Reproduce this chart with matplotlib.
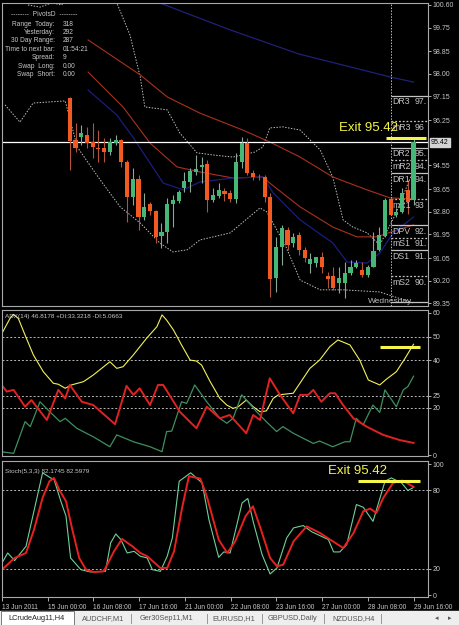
import matplotlib
matplotlib.use("Agg")
import matplotlib.pyplot as plt
from matplotlib.patches import Rectangle

plt.rcParams['font.family'] = ['Liberation Sans', 'DejaVu Sans']

W, H = 460, 625
BG = "black"
FG = "#c8c8c8"
EDGE = "#a8a8a8"
UP, DOWN = "#45b878", "#f25a22"
UP_WICK, DOWN_WICK = "#8aa898", "#b0553a"
YEL = "#f5f54a"

# ---------------- data ----------------
# 4H bars, index 0 = 13 Jun 2011 16:00
bars = list(range(12, 73))
opens = [97.09, 95.51, 95.62, 95.69, 95.43, 95.20, 95.20, 95.05, 95.39, 95.51,
         94.68, 93.35, 94.03, 92.60, 93.09, 92.83, 91.88, 92.03, 93.09, 93.20,
         93.69, 93.92, 94.30, 94.49, 94.60, 93.24, 93.39, 93.58, 93.51, 93.28,
         94.68, 95.39, 94.26, 94.11, 94.11, 93.35, 90.30, 91.47, 92.11, 91.62,
         91.92, 91.36, 90.83, 90.86, 91.09, 90.37, 90.37, 90.11, 90.11, 90.49,
         90.71, 90.60, 90.41, 90.71, 91.36, 91.88, 93.28, 92.68, 92.79, 93.62,
         93.24]
highs = [97.12, 96.15, 96.07, 96.00, 96.15, 95.88, 95.58, 95.58, 95.69, 95.54,
         94.75, 94.45, 94.19, 93.51, 93.17, 92.86, 92.37, 93.32, 93.43, 93.62,
         94.30, 94.45, 94.94, 94.86, 94.75, 93.69, 93.88, 93.69, 93.62, 95.02,
         95.62, 95.58, 94.37, 94.22, 94.19, 93.51, 91.85, 92.30, 92.22, 92.00,
         92.03, 91.47, 91.24, 91.09, 91.28, 90.53, 90.71, 90.71, 90.90, 90.98,
         90.98, 90.90, 90.79, 92.03, 92.22, 93.32, 93.32, 92.94, 93.69, 94.00,
         95.62]
lows = [94.37, 95.05, 95.32, 95.20, 94.83, 94.68, 94.68, 94.94, 95.32, 94.49,
        92.41, 93.05, 92.11, 92.49, 92.68, 91.62, 91.43, 91.62, 92.22, 93.13,
        93.54, 93.54, 94.19, 93.88, 92.79, 93.17, 93.32, 93.20, 93.17, 93.13,
        94.45, 94.19, 94.00, 94.00, 93.17, 89.58, 89.77, 90.79, 91.36, 91.47,
        91.17, 90.90, 90.49, 90.71, 90.49, 89.92, 89.85, 89.73, 89.54, 90.41,
        90.68, 90.34, 90.34, 90.71, 91.32, 91.85, 92.68, 92.60, 92.75, 92.71,
        93.05]
closes = [95.47, 95.20, 95.77, 95.39, 95.24, 95.18, 95.05, 95.43, 95.51, 94.68,
          93.35, 94.03, 92.60, 92.98, 92.83, 91.85, 92.03, 93.09, 93.24, 93.54,
          93.96, 94.34, 94.41, 94.56, 93.24, 93.43, 93.62, 93.47, 93.28, 94.68,
          95.39, 94.26, 94.11, 94.09, 93.35, 90.26, 91.47, 92.19, 91.54, 91.85,
          91.36, 91.05, 91.02, 91.09, 90.71, 90.26, 89.92, 90.30, 90.49, 90.71,
          90.86, 90.41, 90.71, 91.32, 91.92, 93.24, 92.68, 92.79, 93.51, 93.17,
          95.42]

# moving averages (vertices: bar, price)
ma_slow_x = [25, 40, 52, 68, 72]
ma_slow_y = [100.90, 99.66, 98.75, 97.88, 97.69]
ma_a_x = [15.2, 24.3, 29.0, 34.7, 42.2, 46.9, 52.2, 57.9, 63.9, 67.9, 72]
ma_a_y = [99.28, 97.96, 97.13, 96.52, 95.88, 95.43, 94.86, 94.11, 93.62, 93.32, 93.28]
ma_b_x = [15.2, 21.3, 26.0, 30.7, 34.7, 40.5, 45.7, 46.9, 52.2, 57.9, 62.1, 65.6, 69.1, 72]
ma_b_y = [98.07, 96.75, 95.39, 94.49, 94.30, 94.07, 94.11, 93.88, 92.98, 92.22, 91.85, 91.85, 92.11, 92.30]
ma_fast_x = [15.2, 20.2, 23.0, 28.3, 31.8, 34.7, 40.5, 45.7, 47.5, 52.2, 57.9, 60.4, 63.9, 66.1, 68.4, 72]
ma_fast_y = [97.39, 96.45, 95.62, 93.88, 93.62, 93.92, 94.07, 94.11, 93.51, 92.49, 91.62, 90.90, 90.86, 91.24, 91.99, 92.60]

# bollinger bands (vertices)
bb_up_x = [4.7, 6.8, 8.9, 10.6, 11.7, 19.5, 20.2, 22.5, 24.3, 25.1, 27.7, 29.0, 31.2, 34.2,
           37.0, 40.5, 44.3, 45.7, 46.9, 49.2, 52.2, 55.7, 57.9, 59.7, 61.4, 63.9, 66.1, 68.8, 72]
bb_up_y = [100.60, 100.52, 100.68, 100.60, 100.98, 100.98, 100.68, 99.47, 97.88, 96.75, 96.68,
           96.64, 95.77, 95.02, 94.94, 94.86, 95.05, 95.24, 95.96, 96.00, 95.88, 95.13, 94.11,
           92.49, 92.22, 92.00, 91.54, 92.68, 94.37]
bb_lo_x = [0.7, 3.3, 5.6, 11.2, 13.3, 17.3, 20.8, 24.3, 27.7, 30.0, 32.5, 34.7, 40.0, 45.2,
           46.4, 49.6, 52.2, 55.7, 59.7, 66.1, 72]
bb_lo_y = [96.83, 96.18, 96.90, 96.98, 95.24, 94.00, 92.98, 92.37, 91.62, 91.28, 91.36, 91.73,
           92.00, 92.94, 92.79, 91.54, 90.22, 89.85, 89.85, 89.77, 89.35]

# daily pivots (value text as it shows, cut at the chart edge)
piv_names = ["DR3", "mR3", "DR2", "mR2", "DR1", "mR1", "DPV", "mS1", "DS1", "mS2", "DS2"]
piv_levels = [97.18, 96.21, 95.22, 94.74, 94.26, 93.28, 92.30, 91.82, 91.34, 90.36, 89.38]
piv_shown = ["97.", "96", "95.", "94.", "94.", "93", "92.", "91.", "91.", "90.", ""]
day_start = 68

price_ticks = [100.60, 99.75, 98.85, 98.00, 97.15, 96.25, 94.55, 93.65, 92.80, 91.95,
               91.05, 90.20, 89.35]
exit_level = 95.42

# ADX(14)
adx_x = [0, 1.57, 2.15, 3.02, 4.19, 5.64, 7.38, 9.13, 10.0, 11.2, 12.3, 14.4, 16.1, 19.0, 20.2,
         21.3, 23.1, 25.4, 27.2, 28.1, 28.9, 30.1, 31.5, 33.0, 34.1, 35.0, 36.5, 38.2, 39.4,
         40.5, 41.4, 42.8, 44.0, 45.2, 46.3, 47.5, 48.4, 51.0, 53.9, 55.6, 57.4, 58.8, 60.9,
         62.6, 64.1, 66.1, 67.3, 69.0, 70.5, 72]
adx_y = [50.7, 57.7, 59.4, 57.7, 50.7, 42.3, 35.2, 30.3, 29.9, 28.2, 29.6, 31.0, 33.8, 39.4, 36.6,
         37.3, 42.3, 49.3, 54.2, 59.2, 57.0, 52.8, 46.5, 40.1, 39.7, 38.0, 31.0, 23.9, 21.1,
         19.7, 20.4, 23.2, 20.4, 18.3, 18.6, 23.9, 25.4, 26.1, 36.6, 40.1, 45.8, 48.6, 46.5,
         40.1, 31.7, 29.6, 32.1, 35.2, 40.8, 46.8]
pdi_x = [0, 2.2, 4.2, 5.1, 6.8, 8.5, 10.3, 11.2, 13.2, 16.1, 19.0, 20.2, 23.1, 26.0, 28.1, 28.9,
         29.8, 31.5, 32.4, 33.8, 35.9, 38.2, 39.4, 40.5, 42.0, 43.1, 44.6, 46.3, 48.1, 49.2,
         51.0, 54.5, 55.6, 57.9, 60.0, 60.9, 62.0, 63.2, 64.9, 66.1, 67.0, 69.0, 70.2, 71.0, 72]
pdi_y = [1.4, 0.7, 14.1, 12.0, 22.5, 18.3, 14.1, 15.5, 11.3, 7.7, 3.5, 8.5, 5.6, 3.5, 1.4, 9.9,
         10.1, 22.5, 21.8, 29.6, 22.5, 15.5, 13.4, 15.5, 25.4, 22.5, 18.3, 14.1, 9.9, 12.0,
         9.2, 4.9, 5.9, 3.5, 5.6, 5.6, 15.5, 12.7, 21.1, 18.0, 27.5, 20.4, 27.5, 28.9, 33.3]
mdi_x = [0, 1.0, 2.2, 4.2, 5.3, 8.0, 10.0, 11.2, 12.0, 14.1, 16.1, 19.9, 21.9, 23.1, 24.2, 26.0,
         27.4, 28.3, 31.2, 34.1, 35.9, 38.2, 39.9, 42.8, 44.0, 45.2, 46.9, 48.7, 51.0, 52.2,
         53.6, 54.5, 55.9, 57.4, 58.3, 59.7, 61.5, 63.8, 66.7, 69.6, 72]
mdi_y = [29.9, 26.8, 27.5, 20.4, 23.2, 14.8, 27.5, 23.9, 29.6, 22.5, 21.1, 13.0, 29.2, 25.4, 28.2,
         21.1, 29.6, 29.6, 18.3, 11.3, 20.4, 15.5, 16.9, 9.2, 16.9, 14.8, 32.4, 25.4, 17.6, 25.4,
         25.4, 27.5, 22.5, 26.1, 26.1, 21.1, 15.5, 12.0, 8.5, 6.3, 5.1]
adx_levels = [50, 40, 25, 20]
adx_ticks = [60, 50, 40, 25, 20, 0]

# Stochastic(5,3,3)
stk_x = [0, 1.0, 2.2, 4.2, 7.1, 8.5, 9.1, 10.3, 11.2, 12.0, 13.8, 15.5, 18.1, 19.0, 19.9, 20.8,
         21.9, 23.1, 24.2, 25.4, 26.3, 27.7, 28.9, 29.8, 31.0, 33.0, 35.0, 36.2, 37.9, 38.8,
         39.9, 42.0, 43.0, 44.0, 45.5, 46.9, 48.1, 49.8, 51.0, 52.7, 54.2, 57.1, 58.0, 59.1,
         60.3, 62.0, 63.2, 64.9, 67.0, 68.1, 69.9, 71.0, 72]
stk_y = [24.6, 32.2, 26.4, 37.3, 93.3, 89.4, 88.2, 71.6, 60.2, 28.4, 19.5, 17.7, 18.2, 39.8, 46.7,
         42.4, 32.2, 33.5, 29.7, 28.4, 19.5, 18.2, 29.7, 43.7, 86.9, 93.3, 85.6, 57.6, 28.9, 33.0,
         32.2, 70.4, 73.7, 55.1, 30.9, 16.2, 20.8, 43.7, 51.3, 53.1, 48.3, 42.4, 33.0, 33.0,
         38.6, 69.1, 67.0, 56.3, 86.9, 89.4, 85.6, 79.8, 82.2]
std_x = [0, 2.2, 4.2, 5.6, 7.1, 8.3, 9.1, 10.0, 11.2, 12.3, 13.5, 14.7, 16.1, 17.8, 19.6, 21.0,
         22.8, 24.2, 25.4, 27.7, 28.9, 30.1, 31.5, 32.7, 34.7, 35.9, 37.9, 39.4, 40.8, 42.6,
         43.9, 45.2, 46.9, 48.1, 49.2, 51.0, 53.3, 55.6, 57.4, 59.7, 61.5, 63.2, 64.4, 65.5,
         66.7, 68.4, 70.0, 70.8, 72]
std_y = [19.5, 28.4, 32.2, 50.0, 74.2, 86.9, 89.4, 80.5, 71.6, 50.0, 28.4, 19.5, 17.7, 18.2, 33.5,
         42.9, 37.3, 32.2, 29.7, 20.8, 20.8, 33.5, 66.5, 90.7, 88.9, 74.2, 42.4, 32.2, 41.1,
         60.2, 67.8, 51.3, 28.4, 22.1, 23.3, 41.1, 52.5, 47.5, 42.4, 36.0, 47.5, 64.0, 66.0,
         62.7, 74.2, 85.6, 87.4, 85.6, 82.6]
stoch_levels = [80, 20]
stoch_ticks = [100, 80, 20, 0]

date_ticks = [0, 8, 16, 24, 32, 40, 48, 56, 64, 72]
date_labels = ["13 Jun 2011", "15 Jun 00:00", "16 Jun 08:00", "17 Jun 16:00", "21 Jun 00:00",
               "22 Jun 08:00", "23 Jun 16:00", "27 Jun 00:00", "28 Jun 08:00", "29 Jun 16:00"]

info_labels = ["Range  Today:", "Yesterday:", "30 Day Range:", "Time to next bar:",
               "Spread:", "Swap  Long:", "Swap  Short:"]
info_values = ["318", "292", "287", "01:54:21", "9", "0.00", "0.00"]

tabs = ["LCrudeAug11,H4", "AUDCHF,M1", "Ger30Sep11,M1", "EURUSD,H1", "GBPUSD,Daily", "NZDUSD,H4"]

# ---------------- figure ----------------
fig = plt.figure(figsize=(W / 100, H / 100), dpi=100, facecolor=BG)
XMIN, XMAX = 0.17, 74.52


def panel(top, bottom, ylim):
    ax = fig.add_axes([2 / W, 1 - bottom / H, 426 / W, (bottom - top) / H])
    ax.set_facecolor(BG)
    for s in ax.spines.values():
        s.set_color(EDGE)
        s.set_linewidth(0.8)
    ax.yaxis.tick_right()
    ax.tick_params(axis='y', colors=FG, labelsize=5, length=2, pad=1.5, width=0.6)
    ax.tick_params(axis='x', bottom=False, labelbottom=False)
    ax.set_xlim(XMIN, XMAX)
    ax.set_ylim(*ylim)
    return ax


# price panel
ax = panel(3, 306, (89.24, 100.675))
ax.set_yticks(price_ticks)
ax.set_yticklabels([f"{t:.2f}" for t in price_ticks])

ax.plot(bb_up_x, bb_up_y, color="#bdbdbd", lw=0.7, ls=(0, (1.5, 1.5)))
ax.plot(bb_lo_x, bb_lo_y, color="#bdbdbd", lw=0.7, ls=(0, (1.5, 1.5)))
ax.plot(ma_slow_x, ma_slow_y, color="#20207a", lw=0.9)
ax.plot(ma_a_x, ma_a_y, color="#a8321f", lw=0.8)
ax.plot(ma_b_x, ma_b_y, color="#a8321f", lw=0.8)
ax.plot(ma_fast_x, ma_fast_y, color="#1c1c80", lw=0.9)

up = [c >= o for o, c in zip(opens, closes)]
ax.vlines(bars, lows, highs, colors=[UP_WICK if u else DOWN_WICK for u in up], lw=0.8, zorder=3)
ax.bar(bars, [max(abs(c - o), 0.03) for o, c in zip(opens, closes)],
       bottom=[min(o, c) for o, c in zip(opens, closes)], width=0.72,
       color=[UP if u else DOWN for u in up], zorder=4)

ax.axhline(closes[-1], color="white", lw=0.9, zorder=2)
ax.text(1.007, closes[-1], f"{closes[-1]:.2f}", transform=ax.get_yaxis_transform(),
        fontsize=5, color="black", va="center", ha="left",
        bbox=dict(boxstyle="square,pad=0.15", fc="#d4d4d4", ec="#d4d4d4"))

ax.axvline(day_start, color="#bdbdbd", lw=0.7, ls=(0, (1.5, 1.5)))
for name, lvl, shown in zip(piv_names, piv_levels, piv_shown):
    style = (0, (1.5, 1.5)) if name.startswith("m") else "-"
    ax.hlines(lvl, day_start, XMAX, color="#c4c4c4", lw=0.9, ls=style)
    if not shown:
        continue
    ax.text(day_start + 0.3, lvl - 0.07, name, color="#c4c4c4", fontsize=6.3,
            va="top", ha="left", clip_on=True)
    ax.text(day_start + 4.2, lvl - 0.07, shown, color="#c4c4c4", fontsize=6.3,
            va="top", ha="left", clip_on=True)
ax.text(64, 89.42, "Wednesday", color="#bdbdbd", fontsize=6, va="center",
        ha="left", clip_on=True)

ax.text(59.0, 95.96, f"Exit {exit_level:.2f}", color=YEL, fontsize=9.5, va="center",
        ha="left", zorder=7)
ax.hlines(95.58, 67.2, 74.2, color=YEL, lw=2.2, zorder=6)

# ADX panel
ax2 = panel(310, 456, (-0.42, 61.26))
ax2.set_yticks(adx_ticks)
ax2.set_yticklabels([str(t) for t in adx_ticks])
for lv in adx_levels:
    ax2.axhline(lv, color="#b8b8b8", lw=0.7, ls=(0, (2, 2)))
ax2.plot(adx_x, adx_y, color="#f2f25a", lw=0.8)
ax2.plot(pdi_x, pdi_y, color="#3f8f60", lw=0.9)
ax2.plot(mdi_x, mdi_y, color="#e02222", lw=1.4)
ax2.hlines(45.6, 66.1, 73.1, color=YEL, lw=2.2, zorder=6)
ax2.text(0.008, 0.955, "ADX(14) 46.8178 +DI:33.3218 -DI:5.0663",
         transform=ax2.transAxes, color=FG, fontsize=4.6, va="center", ha="left")

# Stochastic panel
ax3 = panel(461, 597, (-1.35, 102.3))
ax3.set_yticks(stoch_ticks)
ax3.set_yticklabels([str(t) for t in stoch_ticks])
for lv in stoch_levels:
    ax3.axhline(lv, color="#b8b8b8", lw=0.7, ls=(0, (2, 2)))
ax3.plot(stk_x, stk_y, color="#6fd09a", lw=0.8)
ax3.plot(std_x, std_y, color="#e82020", lw=1.4)
ax3.hlines(87.1, 62.3, 73.1, color=YEL, lw=2.2, zorder=6)
ax3.text(57.1, 94.7, f"Exit {exit_level:.2f}", color=YEL, fontsize=9.5, va="center", ha="left")
ax3.text(0.008, 0.92, "Stoch(5,3,3) 82.1745 82.5979", transform=ax3.transAxes,
         color=FG, fontsize=4.6, va="center", ha="left")
ax3.set_xticks(date_ticks)
ax3.set_xticklabels(date_labels, ha="left")
ax3.tick_params(axis='x', bottom=True, labelbottom=True, colors=FG, labelsize=4.8,
                length=3, pad=2, width=0.6)

# overlay in pixel space: info block, tab bar
ov = fig.add_axes([0, 0, 1, 1])
ov.set_xlim(0, W)
ov.set_ylim(H, 0)
ov.axis("off")

ov.text(44, 15, "--------  PivotsD  --------", color=FG, fontsize=4.8, ha="center", va="center")
for i, (lab, val) in enumerate(zip(info_labels, info_values)):
    yy = 24 + i * 8.4
    ov.text(55, yy, lab, color=FG, fontsize=4.8, ha="right", va="center")
    ov.text(63, yy, val, color=FG, fontsize=4.8, ha="left", va="center")

ov.add_patch(Rectangle((0, 611), W, 14, color="#eeeeee", zorder=1))
ov.add_patch(Rectangle((1.5, 611), 73, 13.5, fc="white", ec="#7a7a7a", lw=0.7, zorder=2))
tab_x = [8, 82, 140, 212, 268, 332]
for tx, name in zip(tab_x, tabs):
    ov.text(tx, 618.5, name, color="#202020" if tx == 8 else "#555555", fontsize=5.3,
            ha="left", va="center", zorder=3)
for sx in [131, 207, 262, 324, 381]:
    ov.plot([sx, sx], [614, 623], color="#888888", lw=0.6, zorder=3)
ov.text(437, 618.5, "\u25c2", color="#555555", fontsize=5, ha="center", va="center",
        family=["DejaVu Sans"])
ov.text(450, 618.5, "\u25b8", color="#555555", fontsize=5, ha="center", va="center",
        family=["DejaVu Sans"])

fig.savefig("out.png", dpi=100, facecolor=BG)
